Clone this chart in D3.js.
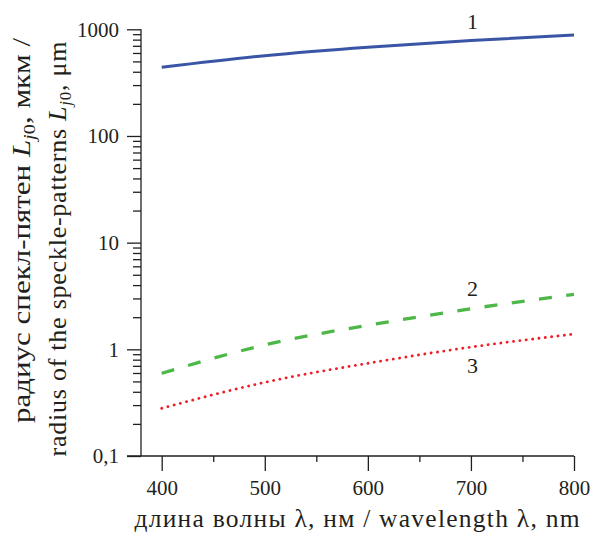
<!DOCTYPE html>
<html>
<head>
<script src="https://d3js.org/d3.v7.min.js"></script>
<title>speckle radius vs wavelength</title>
<style>
body { margin: 0; background: #fff; }
#root { width: 592px; height: 535px; }
.axis path, .axis line { stroke: #231f20; stroke-width: 1.3; }
</style>
</head>
<body>
<svg id="root"></svg>
<script>
let wavelengths = [400, 500, 600, 700, 800]
let curve1 = [440, 566, 680, 785, 885]
let curve2 = [0.596, 1.10, 1.68, 2.40, 3.28]
let curve3 = [0.28, 0.49, 0.74, 1.05, 1.39]
let xTicks = [400, 500, 600, 700, 800]
let xMinor = [450, 550, 650, 750]
let yTicks = [0.1, 1, 10, 100, 1000]
let yTickLabels = ['0,1', '1', '10', '100', '1000']
let curveLabels = ['1', '2', '3']

let serif = '"Liberation Serif", "Times New Roman", serif'
let ink = '#231f20'

let svg = d3.select('#root')

let x = d3.scaleLinear().domain([400, 800]).range([161.7, 574])
let y = d3.scaleLog().domain([0.1, 1000]).range([456, 29.3])

// axis lines
svg.append('line').attr('x1', 127).attr('x2', x(800)).attr('y1', y(0.1)).attr('y2', y(0.1))
	.attr('stroke', ink).attr('stroke-width', 1.3)
svg.append('line').attr('x1', 141).attr('x2', 141).attr('y1', y(1000)).attr('y2', y(0.1))
	.attr('stroke', ink).attr('stroke-width', 1.3)

let xAxis = svg.append('g').attr('class', 'axis').attr('transform', 'translate(0,' + y(0.1) + ')')
	.call(d3.axisBottom(x).tickValues(xTicks).tickSize(15).tickPadding(9).tickFormat(d3.format('d')))
xAxis.select('.domain').remove()
xAxis.selectAll('text').style('font-size', '21px').style('font-family', serif).attr('fill', ink)

let xAxisMinor = svg.append('g').attr('class', 'axis').attr('transform', 'translate(0,' + y(0.1) + ')')
	.call(d3.axisBottom(x).tickValues(xMinor).tickSize(6).tickFormat(''))
xAxisMinor.select('.domain').remove()

let minorY = []
for (let p = -1; p < 3; ++p)
	for (let m = 2; m <= 9; ++m) minorY.push(m * Math.pow(10, p))

let yAxis = svg.append('g').attr('class', 'axis').attr('transform', 'translate(141,0)')
	.call(d3.axisLeft(y).tickValues(yTicks).tickSize(14).tickPadding(8)
		.tickFormat(d => yTickLabels[yTicks.indexOf(d)]))
yAxis.select('.domain').remove()
yAxis.selectAll('text').style('font-size', '21px').style('font-family', serif).attr('fill', ink)

let yAxisMinor = svg.append('g').attr('class', 'axis').attr('transform', 'translate(141,0)')
	.call(d3.axisLeft(y).tickValues(minorY).tickSize(8).tickFormat(''))
yAxisMinor.select('.domain').remove()

// curves
let line = d3.line().x((d, i) => x(wavelengths[i])).y(d => y(d)).curve(d3.curveNatural)

svg.append('path').datum(curve1).attr('d', line)
	.attr('fill', 'none').attr('stroke', '#3a55a6').attr('stroke-width', 3)
svg.append('path').datum(curve2).attr('d', line)
	.attr('fill', 'none').attr('stroke', '#4db848').attr('stroke-width', 3.3)
	.attr('stroke-dasharray', '13 14.5')
svg.append('path').datum(curve3).attr('d', line)
	.attr('fill', 'none').attr('stroke', '#ee1c25').attr('stroke-width', 2.8)
	.attr('stroke-linecap', 'round').attr('stroke-dasharray', '0.1 6.3')

let labelPos = [[700, 29.3], [700, 295.7], [700, 373.3]]
svg.selectAll('.curveLabel').data(curveLabels).enter().append('text')
	.attr('class', 'curveLabel')
	.attr('x', (d, i) => x(labelPos[i][0]) + 1.5)
	.attr('y', (d, i) => labelPos[i][1])
	.attr('text-anchor', 'middle').attr('fill', ink)
	.style('font-family', serif).style('font-size', '22px')
	.text(d => d)

// axis titles
svg.append('text').attr('x', 357).attr('y', 526.7).attr('text-anchor', 'middle')
	.attr('fill', ink).style('font-family', serif).style('font-size', '25.5px')
	.attr('textLength', 445).attr('lengthAdjust', 'spacing')
	.text('длина волны λ, нм / wavelength λ, nm')

function yTitle(cx, cy, len, adjust, before, after)
{
	let t = svg.append('text').attr('transform', 'translate(' + cx + ',' + cy + ') rotate(-90)')
		.attr('text-anchor', 'middle').attr('fill', ink)
		.style('font-family', serif).style('font-size', '26px')
		.attr('textLength', len).attr('lengthAdjust', adjust)
	t.append('tspan').text(before)
	t.append('tspan').style('font-style', 'italic').text('L')
	t.append('tspan').style('font-style', 'italic').style('font-size', '17px').attr('dy', 5).text('j')
	t.append('tspan').style('font-size', '17px').text('0')
	t.append('tspan').attr('dy', -5).text(after)
}
yTitle(30, 230.5, 385, 'spacingAndGlyphs', 'радиус спекл-пятен ', ', мкм /')
yTitle(66, 249, 415, 'spacing', 'radius of the speckle-patterns ', ', μm')
</script>
</body>
</html>
